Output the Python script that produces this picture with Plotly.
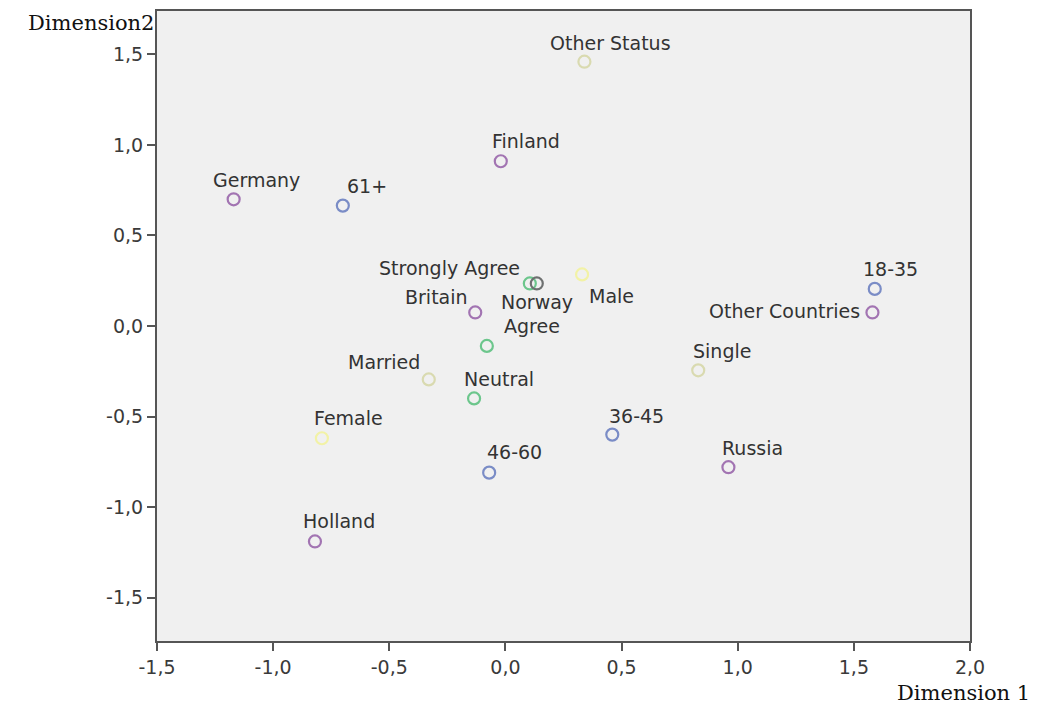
import plotly.graph_objects as go

# ---- data ----
labels = ["Other Status", "Finland", "Germany", "61+", "Strongly Agree", "Norway",
          "Male", "Britain", "Agree", "Married", "Neutral", "Female", "46-60",
          "36-45", "Russia", "Holland", "18-35", "Other Countries", "Single"]
dim1 = [0.34, -0.02, -1.17, -0.70, 0.105, 0.135, 0.33, -0.13, -0.08, -0.33,
        -0.135, -0.79, -0.07, 0.46, 0.96, -0.82, 1.59, 1.58, 0.83]
dim2 = [1.46, 0.91, 0.70, 0.665, 0.235, 0.235, 0.285, 0.075, -0.11, -0.295,
        -0.40, -0.62, -0.81, -0.60, -0.78, -1.19, 0.205, 0.075, -0.245]
groups = ["status", "country", "country", "age", "agree", "norway",
          "gender", "country", "agree", "status", "agree", "gender", "age",
          "age", "country", "country", "age", "country", "status"]

xtick_vals = [-1.5, -1.0, -0.5, 0.0, 0.5, 1.0, 1.5, 2.0]
xtick_text = ["-1,5", "-1,0", "-0,5", "0,0", "0,5", "1,0", "1,5", "2,0"]
ytick_vals = [-1.5, -1.0, -0.5, 0.0, 0.5, 1.0, 1.5]
ytick_text = ["-1,5", "-1,0", "-0,5", "0,0", "0,5", "1,0", "1,5"]

# ---- styles ----
group_colors = {
    "country": "#a274b2",
    "age": "#7a8cc6",
    "agree": "#6cc68c",
    "status": "#d9dab0",
    "gender": "#f2f2a6",
    "norway": "#6e7070",
}
# label offsets in pixels (dx, dy, anchor)
label_offsets = {
    "Other Status": (26, -19, "center"),
    "Finland": (25, -20, "center"),
    "Germany": (23, -19, "center"),
    "61+": (24, -20, "center"),
    "Strongly Agree": (-80, -15, "center"),
    "Norway": (0, 19, "center"),
    "Male": (29, 22, "center"),
    "Britain": (-39, -15, "center"),
    "Agree": (45, -20, "center"),
    "Married": (-45, -17, "center"),
    "Neutral": (25, -19, "center"),
    "Female": (27, -20, "center"),
    "46-60": (25, -21, "center"),
    "36-45": (24, -19, "center"),
    "Russia": (24, -19, "center"),
    "Holland": (24, -20, "center"),
    "18-35": (16, -20, "center"),
    "Other Countries": (-10, -1, "right"),
    "Single": (24, -19, "center"),
}

fig = go.Figure()
fig.add_trace(go.Scatter(
    x=dim1, y=dim2, mode="markers",
    marker=dict(symbol="circle-open", size=12,
                color=[group_colors[g] for g in groups],
                line=dict(width=2.2)),
    hovertext=labels, hoverinfo="text", showlegend=False,
))

annotations = []
for lab, xv, yv in zip(labels, dim1, dim2):
    dx, dy, anc = label_offsets[lab]
    annotations.append(dict(
        x=xv, y=yv, xref="x", yref="y", text=lab, showarrow=False,
        xshift=dx, yshift=-dy, xanchor=anc, yanchor="middle",
        font=dict(family="DejaVu Sans", size=19, color="#333333"),
    ))

annotations.append(dict(
    x=0, y=1, xref="paper", yref="paper", text="Dimension2", showarrow=False,
    xanchor="right", yanchor="middle", xshift=-1, yshift=-12,
    font=dict(family="DejaVu Serif", size=21, color="#111111"),
))
annotations.append(dict(
    x=1, y=0, xref="paper", yref="paper", text="Dimension 1", showarrow=False,
    xanchor="center", yanchor="middle", xshift=-7, yshift=-52,
    font=dict(family="DejaVu Serif", size=21, color="#111111"),
))

axis_common = dict(
    showgrid=False, zeroline=False, showline=True, linecolor="#555555",
    linewidth=2, mirror=True, ticks="outside", ticklen=8, tickwidth=2,
    tickcolor="#555555", tickfont=dict(family="DejaVu Sans", size=19, color="#3a3a3a"),
)

fig.update_layout(
    width=1034, height=698,
    margin=dict(l=149, r=72, t=1, b=65),
    paper_bgcolor="white", plot_bgcolor="#f0f0f0",
    xaxis=dict(range=[-1.5, 2.0], tickvals=xtick_vals, ticktext=xtick_text, **axis_common),
    yaxis=dict(range=[-1.74, 1.74], tickvals=ytick_vals, ticktext=ytick_text, **axis_common),
    annotations=annotations,
)

fig.write_html("out.html")
